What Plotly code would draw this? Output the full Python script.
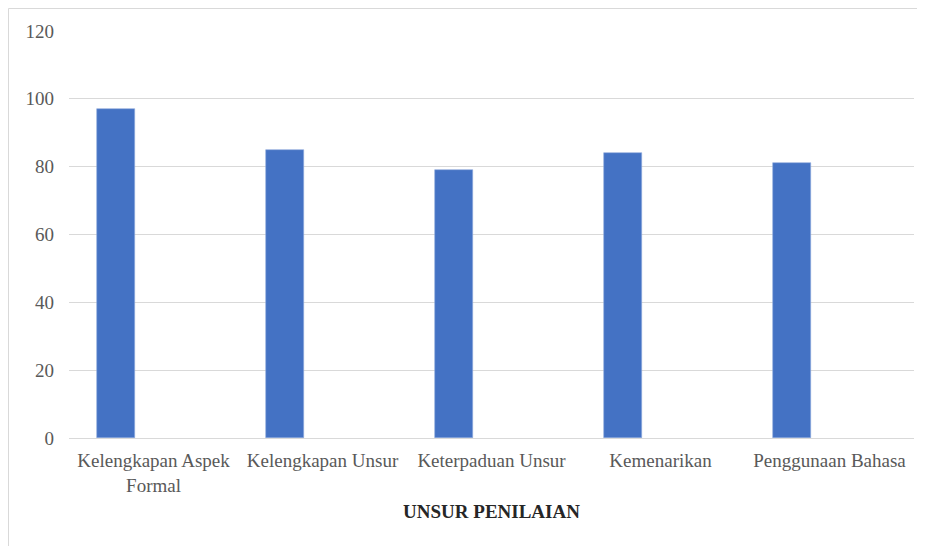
import plotly.graph_objects as go

categories = ["Kelengkapan Aspek<br>Formal", "Kelengkapan Unsur", "Keterpaduan Unsur",
              "Kemenarikan", "Penggunaan Bahasa"]
values = [97, 85, 79, 84, 81]
y_ticks = [0, 20, 40, 60, 80, 100, 120]
x_title = "UNSUR PENILAIAN"

fig = go.Figure()
fig.add_trace(go.Bar(
    x=categories, y=values,
    marker=dict(color="#4472C4", line=dict(color="#8FAADC", width=0.6)),
    width=0.225, offset=-0.336,
    showlegend=False,
))

font_fam = "Liberation Serif, Times New Roman, serif"
L, R, T, B = 61, 11, 23, 108
W, H = 917, 538
pw, ph = W - L - R, H - T - B
fig.update_layout(
    width=W, height=H,
    margin=dict(l=L, r=R, t=T, b=B),
    paper_bgcolor="white", plot_bgcolor="white",
    font=dict(family=font_fam, size=19, color="#595959"),
    bargap=0,
    xaxis=dict(
        type="category", showgrid=False, showline=True, linecolor="#D9D9D9", linewidth=1,
        ticks="", tickfont=dict(size=19, color="#595959"), range=[-0.5, 4.5],
        ticklabelstandoff=5,
        title=dict(text="<b>" + x_title + "</b>",
                   font=dict(size=19, color="#262626", family=font_fam), standoff=10),
    ),
    yaxis=dict(
        range=[0, 120], tickvals=y_ticks, showgrid=True, gridcolor="#D9D9D9", gridwidth=1,
        zeroline=False, showline=False, ticks="", ticklabelstandoff=14,
        tickfont=dict(size=19, color="#595959"),
    ),
    shapes=[dict(type="rect", xref="paper", yref="paper",
                 x0=(-L + 0.5) / pw, x1=1.2, y0=-1, y1=1 + (T - 0.5) / ph,
                 line=dict(color="#D9D9D9", width=1), fillcolor="rgba(0,0,0,0)")],
)
fig.write_html("out.html")
